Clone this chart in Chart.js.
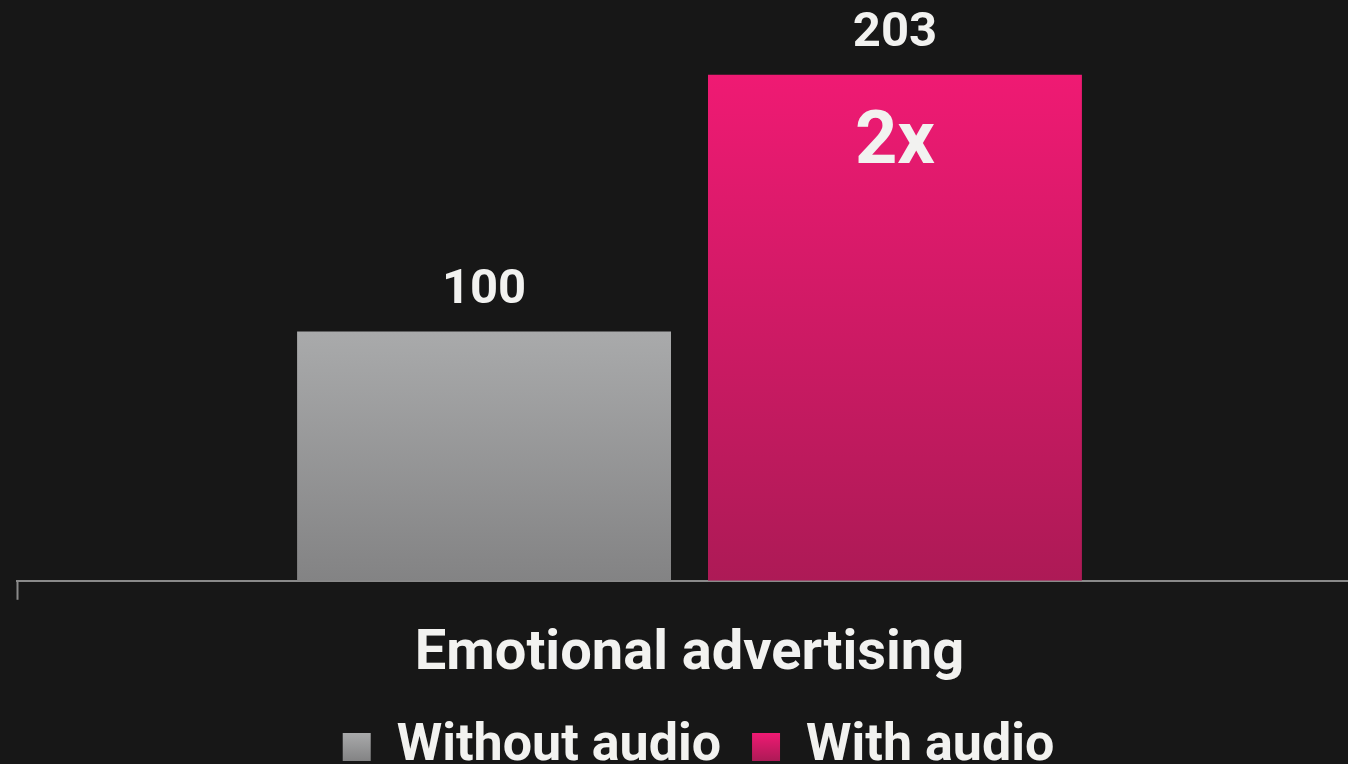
<!DOCTYPE html>
<html>
<head>
<meta charset="utf-8">
<script src="https://cdn.jsdelivr.net/npm/chart.js@4"></script>
<style>
  html, body { margin: 0; padding: 0; background: #171717; overflow: hidden; }
  #wrap { position: relative; width: 1362px; height: 764px; }
</style>
</head>
<body>
<div id="wrap"><canvas id="barChart"></canvas></div>
<script>
// Data
const categories = ['Emotional advertising'];
const withoutAudio = [100];
const withAudio = [203];
const seriesNames = ['Without audio', 'With audio'];
const multiplierText = '2x';

const FONT = 'Roboto, "Liberation Sans", sans-serif';
const GREY = ['#a9aaab', '#838384'];
const PINK = ['#ef1a73', '#ad1a56'];

// vertical gradient from the bar top to the baseline
function barGradient(ctx, colors) {
  const chart = ctx.chart;
  const area = chart.chartArea;
  if (!area) return colors[0];
  const value = ctx.raw || 0;
  const y0 = chart.scales.y.getPixelForValue(value);
  const g = chart.ctx.createLinearGradient(0, y0, 0, area.bottom);
  g.addColorStop(0, colors[0]);
  g.addColorStop(1, colors[1]);
  return g;
}

// value labels above the bars, plus the "2x" inside the second bar
const valueLabels = {
  id: 'valueLabels',
  afterDatasetsDraw(chart) {
    const ctx = chart.ctx;
    ctx.save();
    ctx.fillStyle = '#f2f2f0';
    ctx.textAlign = 'center';
    ctx.textBaseline = 'alphabetic';
    chart.data.datasets.forEach((ds, i) => {
      const meta = chart.getDatasetMeta(i);
      meta.data.forEach((bar, j) => {
        ctx.font = 'bold 49px ' + FONT;
        ctx.fillText(ds.data[j], bar.x, bar.y - 29);
      });
    });
    const big = chart.getDatasetMeta(1).data[0];
    ctx.font = 'bold 74px ' + FONT;
    ctx.fillText(multiplierText, big.x, big.y + 88);
    ctx.restore();
  }
};

// legend sits a bit right of centre and hugs the bottom edge
const legendNudge = {
  id: 'legendNudge',
  afterLayout(chart) {
    const lg = chart.legend;
    lg.left += 9; lg.right += 9;
    lg.top -= 21; lg.bottom -= 21;
  }
};

function legendFill(chart, colors) {
  const g = chart.ctx.createLinearGradient(0, 733, 0, 761);
  g.addColorStop(0, colors[0]);
  g.addColorStop(1, colors[1]);
  return g;
}

const config = {
  type: 'bar',
  data: {
    labels: categories,
    datasets: [
      {
        label: seriesNames[0],
        data: withoutAudio,
        backgroundColor: c => barGradient(c, GREY),
        colors: GREY
      },
      {
        label: seriesNames[1],
        data: withAudio,
        backgroundColor: c => barGradient(c, PINK),
        colors: PINK
      }
    ]
  },
  options: {
    responsive: true,
    maintainAspectRatio: false,
    animation: false,
    layout: { padding: { top: 0, left: 17, right: 0, bottom: -40 } },
    datasets: {
      bar: { categoryPercentage: 0.611, barPercentage: 0.91 }
    },
    scales: {
      x: {
        grid: {
          display: true,
          drawOnChartArea: false,
          drawTicks: true,
          tickLength: 19,
          tickWidth: 2,
          tickColor: '#8a8a8a',
          offset: true
        },
        border: { display: true, color: '#8a8a8a', width: 2 },
        ticks: {
          color: '#f2f2f0',
          padding: 22,
          font: { family: FONT, size: 56, weight: 'bold' }
        }
      },
      y: {
        display: false,
        min: 0,
        max: 233
      }
    },
    plugins: {
      tooltip: { enabled: false },
      legend: {
        position: 'bottom',
        labels: {
          color: '#f2f2f0',
          boxWidth: 28,
          boxHeight: 28,
          padding: 31,
          font: { family: FONT, size: 52, weight: 'bold' },
          generateLabels(chart) {
            return chart.data.datasets.map((ds, i) => ({
              text: ds.label,
              fillStyle: legendFill(chart, ds.colors),
              strokeStyle: 'rgba(0,0,0,0)',
              lineWidth: 0,
              fontColor: '#f2f2f0',
              datasetIndex: i
            }));
          }
        }
      }
    }
  },
  plugins: [valueLabels, legendNudge]
};

const ctx = document.getElementById('barChart').getContext('2d');
new Chart(ctx, config);
</script>
</body>
</html>
